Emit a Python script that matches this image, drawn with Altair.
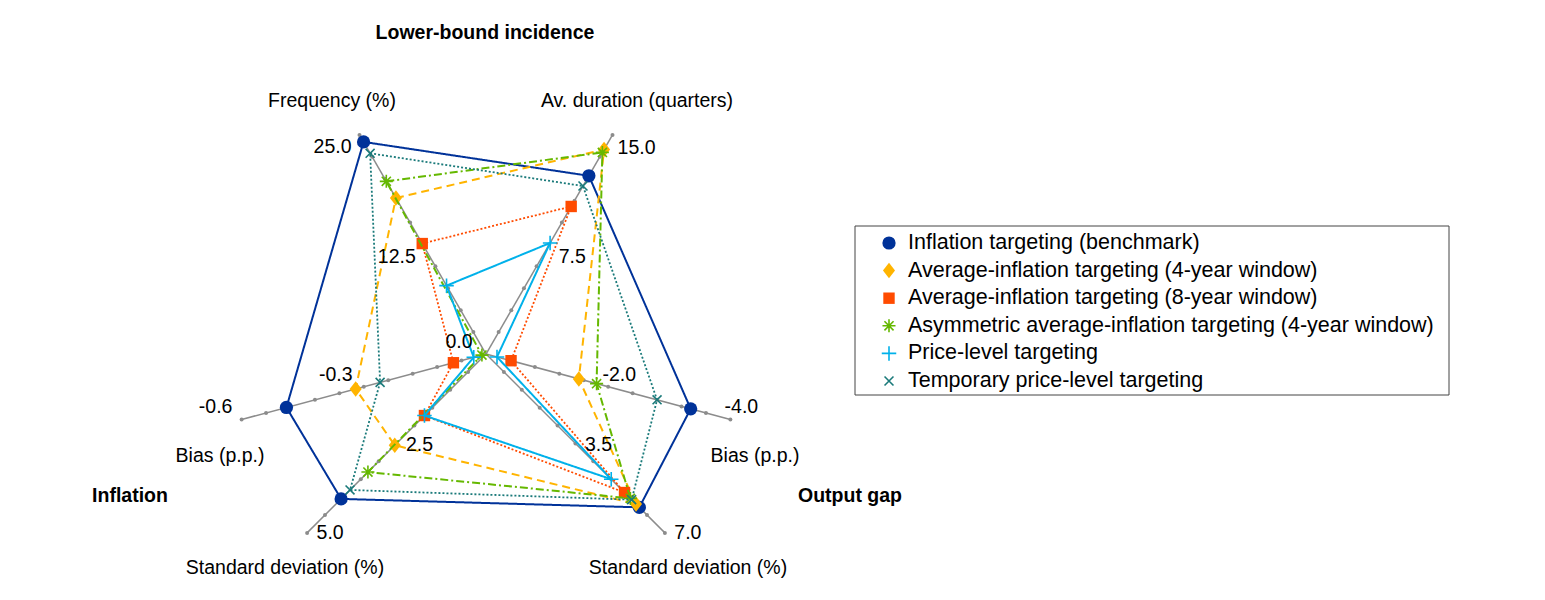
import altair as alt
import pandas as pd
import numpy as np

# ---------------- data ----------------
axis_keys = ["freq", "dur", "og_bias", "og_sd", "inf_sd", "inf_bias"]
axis_titles = ["Frequency (%)", "Av. duration (quarters)", "Bias (p.p.)",
               "Standard deviation (%)", "Standard deviation (%)", "Bias (p.p.)"]
axis_max = [25.0, 15.0, -4.0, 7.0, 5.0, -0.6]

group_titles = ["Lower-bound incidence", "Inflation", "Output gap"]

series_names = [
    "Inflation targeting (benchmark)",
    "Average-inflation targeting (4-year window)",
    "Average-inflation targeting (8-year window)",
    "Asymmetric average-inflation targeting (4-year window)",
    "Price-level targeting",
    "Temporary price-level targeting",
]
# order: frequency, av. duration, output-gap bias, output-gap sd, inflation sd, inflation bias
it_benchmark = [24.2, 12.2, -3.35, 6.00, 4.05, -0.49]
ait_4y = [17.8, 14.0, -1.52, 5.87, 2.55, -0.32]
ait_8y = [12.6, 10.1, -0.41, 5.42, 1.72, -0.08]
asym_ait_4y = [19.7, 13.8, -1.81, 5.65, 3.30, -0.01]
plt_vals = [7.8, 7.6, -0.18, 4.90, 1.72, -0.03]
tplt_vals = [22.9, 11.5, -2.80, 5.70, 3.80, -0.26]
series_values = [it_benchmark, ait_4y, ait_8y, asym_ait_4y, plt_vals, tplt_vals]

# ---------------- layout / style ----------------
CX, CY, RADIUS = 486.0, 354.0, 253.0
AXIS_ANGLE = [120, 60, -15, -45, 225, 195]
TIP_OFF = [(-27, 12), (24, 13), (11, -12), (23, 0), (23, 0), (-26, -12)]
MID_OFF = [(-26, 13), (23, 13), (11, -12), (23, 2), (23, 2), (-28, -12)]
TITLE_POS = [(332, 101), (637, 101), (755, 456), (688, 568), (285, 568), (220, 456)]
GROUP_POS = [(485, 33), (130, 496), (850, 496)]

FONT = "Liberation Sans"
FS = 19.5
LEG_FS = 21.5
colors = ["#003299", "#FFB400", "#FF4B00", "#65B800", "#00B1EA", "#1A7A7A"]
dashes = [[1, 0], [8, 5], [2, 2], [8, 3, 2, 3], [1, 0], [2, 2]]
line_w = [2.0, 2.0, 1.8, 2.0, 2.0, 1.8]
ASTER = "M0,-1L0,1M-1,0L1,0M-0.7,-0.7L0.7,0.7M-0.7,0.7L0.7,-0.7"
PLUS = "M0,-1L0,1M-1,0L1,0"
XMARK = "M-1,-1L1,1M-1,1L1,-1"
DIAMOND = "M0,-1L0.78,0L0,1L-0.78,0Z"
shapes = ["circle", DIAMOND, "square", ASTER, PLUS, XMARK]
filled = [True, True, True, False, False, False]
sizes = [175, 240, 130, 170, 210, 80]

W, H = 1529, 584
XS = alt.Scale(domain=[8, 8 + W], nice=False, zero=False)
YS = alt.Scale(domain=[8 + H, 8], nice=False, zero=False)


def pos(frac, ang):
    a = np.deg2rad(ang)
    return CX + frac * RADIUS * np.cos(a), CY - frac * RADIUS * np.sin(a)


def X(f="x"):
    return alt.X(f"{f}:Q", scale=XS, axis=None)


def Y(f="y"):
    return alt.Y(f"{f}:Q", scale=YS, axis=None)


layers = []

# axes
ax_rows, dot_rows = [], []
for j, ang in enumerate(AXIS_ANGLE):
    x0, y0 = pos(0, ang)
    x1, y1 = pos(1, ang)
    ax_rows.append(dict(x=x0, y=y0, x2=x1, y2=y1))
    for t in range(1, 11):
        xd, yd = pos(t / 10, ang)
        dot_rows.append(dict(x=xd, y=yd))
ax_df = pd.DataFrame(ax_rows)
layers.append(alt.Chart(ax_df).mark_rule(color="#8c8c8c", strokeWidth=1.5).encode(
    x=X(), y=Y(), x2="x2:Q", y2="y2:Q"))
layers.append(alt.Chart(pd.DataFrame(dot_rows)).mark_circle(color="#8c8c8c", size=16, opacity=1).encode(
    x=X(), y=Y()))

# series
for si, name in enumerate(series_names):
    vals = series_values[si]
    rows = []
    for k in range(7):
        j = k % 6
        frac = vals[j] / axis_max[j]
        x, y = pos(frac, AXIS_ANGLE[j])
        rows.append(dict(series=name, order=k, x=x, y=y))
    df = pd.DataFrame(rows)
    layers.append(alt.Chart(df).mark_line(color=colors[si], strokeWidth=line_w[si],
                                          strokeDash=dashes[si]).encode(
        x=X(), y=Y(), order="order:Q"))
    layers.append(alt.Chart(df[df.order < 6]).mark_point(
        shape=shapes[si], filled=filled[si], size=sizes[si], color=colors[si],
        strokeWidth=1.6 if not filled[si] else 1, opacity=1).encode(x=X(), y=Y()))

# tick labels
lab_rows = []
for j, ang in enumerate(AXIS_ANGLE):
    xt, yt = pos(1, ang)
    lab_rows.append(dict(x=xt + TIP_OFF[j][0], y=yt + TIP_OFF[j][1], t=f"{axis_max[j]:.1f}"))
    xm, ym = pos(0.5, ang)
    lab_rows.append(dict(x=xm + MID_OFF[j][0], y=ym + MID_OFF[j][1], t=f"{axis_max[j] / 2:.1f}"))
lab_rows.append(dict(x=CX - 27, y=CY - 12, t="0.0"))
layers.append(alt.Chart(pd.DataFrame(lab_rows)).mark_text(
    font=FONT, fontSize=FS, align="center", baseline="middle", color="black").encode(
    x=X(), y=Y(), text="t:N"))

# axis titles
tt = pd.DataFrame([dict(x=p[0], y=p[1], t=axis_titles[j]) for j, p in enumerate(TITLE_POS)])
layers.append(alt.Chart(tt).mark_text(font=FONT, fontSize=FS, align="center", baseline="middle",
                                      color="black").encode(x=X(), y=Y(), text="t:N"))
gt = pd.DataFrame([dict(x=p[0], y=p[1], t=group_titles[j]) for j, p in enumerate(GROUP_POS)])
layers.append(alt.Chart(gt).mark_text(font=FONT, fontSize=FS, fontWeight="bold", align="center",
                                      baseline="middle", color="black").encode(x=X(), y=Y(), text="t:N"))

# legend
LEG_X0, LEG_Y0, LEG_X1, LEG_Y1 = 855, 226, 1449, 395
box = pd.DataFrame([dict(x=LEG_X0, y=LEG_Y0, x2=LEG_X1, y2=LEG_Y1)])
layers.append(alt.Chart(box).mark_rect(fill="white", stroke="#444444", strokeWidth=1).encode(
    x=X(), y=Y(), x2="x2:Q", y2="y2:Q"))
for si, name in enumerate(series_names):
    ly = 243 + si * 27.6
    d = pd.DataFrame([dict(x=889, y=ly, t=name)])
    layers.append(alt.Chart(d).mark_point(
        shape=shapes[si], filled=filled[si], size=sizes[si], color=colors[si],
        strokeWidth=1.6 if not filled[si] else 1, opacity=1).encode(x=X(), y=Y()))
    layers.append(alt.Chart(d).mark_text(font=FONT, fontSize=LEG_FS, align="left", baseline="middle",
                                         color="black", dx=19).encode(x=X(), y=Y(), text="t:N"))

chart = alt.layer(*layers).properties(
    width=W, height=H, autosize=alt.AutoSizeParams(type="none"), padding=0,
    background="white"
).configure_view(stroke=None)

chart.save("out.html", embed_options={"renderer": "svg", "actions": False})
